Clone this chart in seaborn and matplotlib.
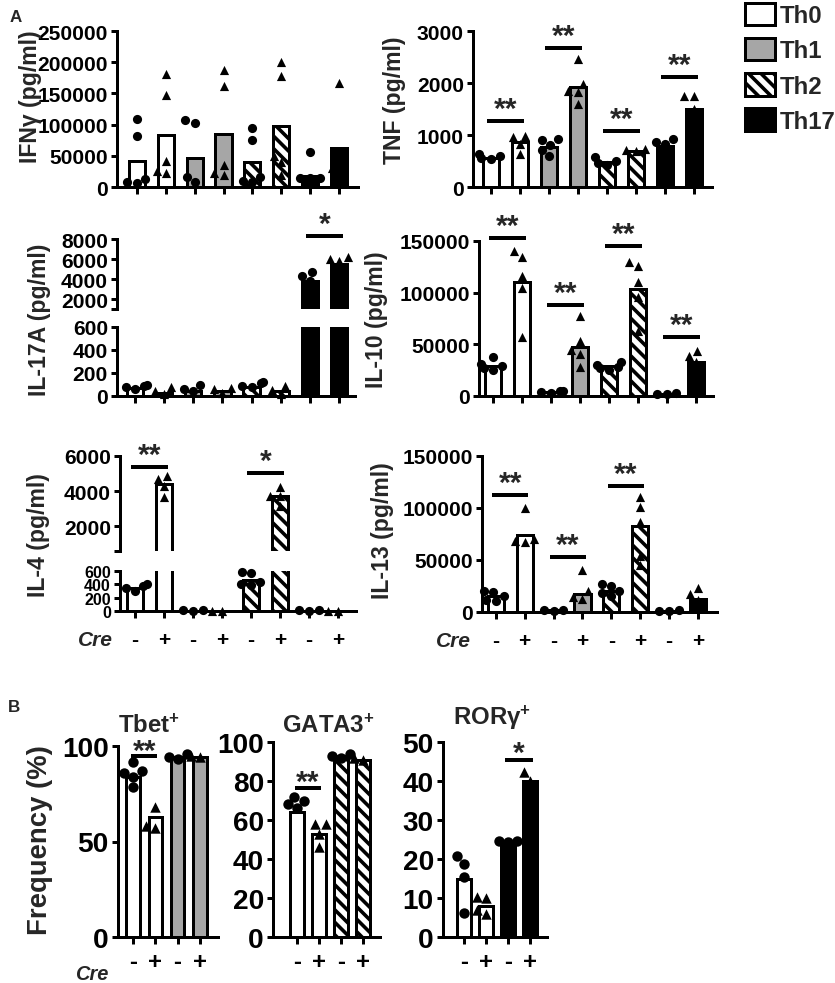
import numpy as np
import pandas as pd
import matplotlib
matplotlib.use("Agg")
import matplotlib.pyplot as plt
from matplotlib.patches import Patch
import seaborn as sns

# ---------------- data ----------------
GROUPS = ["Th0", "Th0", "Th1", "Th1", "Th2", "Th2", "Th17", "Th17"]
CRE = ["-", "+", "-", "+", "-", "+", "-", "+"]
CATS = [f"{g} {c}" for g, c in zip(GROUPS, CRE)]

IFNG_BARS = [42000, 83000, 46000, 85000, 40000, 97000, 17000, 62000]
IFNG_PTS = [[109000, 82000, 13000, 8000, 6000],
            [181000, 148000, 42000, 26000, 22000],
            [107000, 103000, 16000, 8000],
            [188000, 162000, 35000, 23000, 20000],
            [95000, 76000, 16000, 10000, 8000],
            [200000, 178000, 50000, 40000, 20000],
            [56000, 15000, 15000, 15000],
            [166000, 30000, 20000]]

TNF_BARS = [560, 865, 770, 1920, 480, 700, 790, 1500]
TNF_PTS = [[640, 590, 560, 540],
           [980, 960, 830, 640],
           [920, 900, 810, 720, 600],
           [2460, 1980, 1850, 1830, 1600],
           [580, 500, 470, 420],
           [740, 720, 700],
           [830, 870, 930],
           [1750, 1750, 1500]]
TNF_SIG = [(0, 1, 1270, "**"), (2, 3, 2670, "**"), (4, 5, 1070, "**"), (6, 7, 2110, "**")]

IL17A_BARS = [70, 30, 40, 40, 80, 40, 3800, 5500]
IL17A_PTS = [[100, 90, 80, 60], [80, 40, 20], [100, 60, 40], [70, 60, 30],
             [120, 110, 90, 80], [90, 50, 20], [4700, 4300, 3800], [6200, 6000, 5800]]
IL17A_SIG = [(6, 7, 8300, "*")]

IL10_BARS = [29000, 110000, 4000, 47000, 29000, 104000, 2000, 33000]
IL10_PTS = [[38000, 31000, 29000, 27000, 25000],
            [140000, 135000, 116000, 105000, 57000],
            [5000, 4000, 3000, 5000],
            [77000, 53000, 45000, 41000, 28000],
            [33000, 30000, 28000, 27000, 25000],
            [130000, 126000, 110000, 96000, 63000],
            [3000, 2000, 1500],
            [43500, 38700, 33000]]
IL10_SIG = [(0, 1, 153000, "**"), (2, 3, 88000, "**"), (4, 5, 145000, "**"), (6, 7, 57000, "**")]

IL4_BARS = [345, 4400, 5, 5, 465, 3700, 3, 3]
IL4_PTS = [[400, 380, 350, 300], [4850, 4700, 4290, 3660], [10, 8, 5], [5, 3],
           [590, 570, 435, 400, 387], [4230, 3710, 3700, 3140], [10, 8, 5], [5, 3]]
IL4_SIG = [(0, 1, 5370, "**"), (4, 5, 5030, "*")]

IL13_BARS = [15400, 74000, 1500, 17300, 20200, 83000, 1000, 12500]
IL13_PTS = [[20000, 19000, 15400, 12000, 10500],
            [100000, 70000, 68000, 67000],
            [2000, 1500, 1000],
            [40000, 20000, 14400, 12500],
            [27000, 25000, 20000, 18000, 15000],
            [110500, 101000, 86500, 54000, 45000],
            [1500, 1000, 800],
            [23000, 17300, 12000]]
IL13_SIG = [(0, 1, 112500, "**"), (2, 3, 52900, "**"), (4, 5, 121000, "**")]

B_CRE = ["-", "+", "-", "+"]
TBET_GROUPS = ["Th0", "Th0", "Th1", "Th1"]
TBET_BARS = [84, 63, 94, 94]
TBET_PTS = [[91.6, 87, 86, 84, 78.5], [68, 58, 57], [96, 94, 93], [95, 94]]
TBET_SIG = [(0, 1, 95, "**")]

GATA3_GROUPS = ["Th0", "Th0", "Th2", "Th2"]
GATA3_BARS = [64, 53, 93, 91]
GATA3_PTS = [[72, 70, 68, 66], [58, 58, 53, 46], [94, 93, 92], [92, 91]]
GATA3_SIG = [(0, 1, 76.4, "**")]

RORG_GROUPS = ["Th0", "Th0", "Th17", "Th17"]
RORG_BARS = [15, 8, 24.4, 40]
RORG_PTS = [[20.8, 18.7, 15.4, 6.2], [10.3, 10, 7, 6], [24.7, 24.5, 24.3], [42.3, 40, 36.7]]
RORG_SIG = [(2, 3, 45.4, "*")]

LEGEND_LABELS = ["Th0", "Th1", "Th2", "Th17"]

# ---------------- style ----------------
W, H, DPI = 835, 984, 150
PT = 72.0 / DPI  # points per pixel

sns.set_theme(style="ticks")
plt.rcParams["font.family"] = ["Liberation Sans", "DejaVu Sans"]
plt.rcParams["font.weight"] = "bold"
plt.rcParams["mathtext.default"] = "regular"
plt.rcParams["hatch.linewidth"] = 3.6 * PT
plt.rcParams["hatch.color"] = "black"

FACE = {"Th0": "white", "Th1": "#a6a6a6", "Th2": "white", "Th17": "black"}
HATCH = {"Th0": None, "Th1": None, "Th2": "\\" * 4, "Th17": None}
LW = 3 * PT
TICK_A, TICK_B = 21 * PT, 28 * PT
YLAB_A, YLAB_B = 23 * PT, 27.5 * PT
STAR_FS = 30 * PT
CRE_FS_A, CRE_FS_B = 21 * PT, 24 * PT

fig = plt.figure(figsize=(W / DPI, H / DPI), dpi=DPI)


def new_ax(left, top, right, bottom):
    return fig.add_axes([left / W, 1 - bottom / H, (right - left) / W, (bottom - top) / H])


def draw_bars(ax, cats, groups, bars, width):
    sns.barplot(x=cats, y=bars, order=cats, width=width, errorbar=None, ax=ax,
                color="white", edgecolor="black", linewidth=LW)
    for patch, g in zip(ax.patches, groups):
        patch.set_facecolor(FACE[g])
        if HATCH[g]:
            patch.set_hatch(HATCH[g])


def draw_points(ax, cats, cre, pts, msize, lo=-np.inf, hi=np.inf):
    df = pd.DataFrame([(c, s, v) for c, s, vals in zip(cats, cre, pts) for v in vals],
                      columns=["cat", "cre", "value"])
    df = df[(df.value >= lo) & (df.value <= hi)]
    for sign, mk in (("-", "o"), ("+", "^")):
        sub = df[df.cre == sign]
        if len(sub):
            sns.swarmplot(data=sub, x="cat", y="value", order=cats, marker=mk, color="black",
                          size=msize, linewidth=0, ax=ax, clip_on=False)


def style(ax, xlim, ylim, yticks, tick_fs, extra_ticks=(), xlabels=None, xlab_fs=None,
          xpad=4, bottom=True):
    ax.set_xlim(*xlim)
    ax.set_ylim(*ylim)
    ax.set_yticks(list(yticks) + list(extra_ticks))
    ax.set_yticklabels([str(t) for t in yticks] + [""] * len(extra_ticks))
    ax.set_xlabel("")
    ax.set_ylabel("")
    ax.set_facecolor("none")
    for s in ("top", "right"):
        ax.spines[s].set_visible(False)
    for s in ("left", "bottom"):
        ax.spines[s].set_linewidth(LW)
        ax.spines[s].set_color("black")
        ax.spines[s].set_capstyle("projecting")
    ax.tick_params(axis="y", length=6 * PT, width=LW, labelsize=tick_fs, pad=1.5, colors="black")
    if bottom:
        ax.tick_params(axis="x", length=7 * PT, width=LW, pad=xpad, colors="black")
        if xlabels is None:
            ax.set_xticklabels([""] * len(ax.get_xticks()))
        else:
            ax.set_xticklabels(xlabels, fontsize=xlab_fs, fontweight="bold")
    else:
        ax.spines["bottom"].set_visible(False)
        ax.tick_params(axis="x", length=0, labelbottom=False)


def add_sig(ax, sigs, half, gap_px):
    for i, j, y, lab in sigs:
        xc = (i + j) / 2
        ax.plot([xc - half, xc + half], [y, y], color="black", lw=4 * PT,
                clip_on=False, solid_capstyle="butt")
        ax.annotate(lab, xy=(xc, y), xytext=(0, gap_px * PT), textcoords="offset points",
                    ha="center", va="baseline", fontsize=STAR_FS, fontweight="bold",
                    annotation_clip=False)


def ylabel(x, y, text, fs):
    fig.text(x / W, 1 - y / H, text, rotation=90, ha="center", va="center", fontsize=fs,
             fontweight="bold")


def simple_panel(box, xlim, ylim, yticks, cats, groups, cre, bars, pts, width, msize,
                 tick_fs, sigs=(), half=0.63, gap=4, xlabels=None, xlab_fs=None, xpad=4):
    ax = new_ax(*box)
    ax.set_xlim(*xlim)
    ax.set_ylim(*ylim)
    draw_bars(ax, cats, groups, bars, width)
    draw_points(ax, cats, cre, pts, msize)
    style(ax, xlim, ylim, yticks, tick_fs, xlabels=xlabels, xlab_fs=xlab_fs, xpad=xpad)
    add_sig(ax, sigs, half, gap)
    return ax


def broken_panel(upper_box, lower_box, xlim, up_lim, lo_lim, up_ticks, lo_ticks, bars, pts,
                 sigs, lo_tick_fs=TICK_A, xlabels=None, xlab_fs=None, xpad=4):
    axu = new_ax(*upper_box)
    axl = new_ax(*lower_box)
    for ax, lim in ((axu, up_lim), (axl, lo_lim)):
        ax.set_xlim(*xlim)
        ax.set_ylim(*lim)
        draw_bars(ax, CATS, GROUPS, bars, 0.56)
        draw_points(ax, CATS, CRE, pts, 4.4, lo=lim[0], hi=lim[1])
    style(axu, xlim, up_lim, up_ticks, TICK_A, extra_ticks=(up_lim[0],), bottom=False)
    style(axl, xlim, lo_lim, lo_ticks, lo_tick_fs, xlabels=xlabels, xlab_fs=xlab_fs, xpad=xpad)
    add_sig(axu, sigs, 0.63, 4)
    return axu, axl


# ---------------- panel A ----------------
simple_panel((117, 32, 358, 188), (-0.69, 7.66), (0, 250000),
             [0, 50000, 100000, 150000, 200000, 250000],
             CATS, GROUPS, CRE, IFNG_BARS, IFNG_PTS, 0.56, 4.4, TICK_A)
ylabel(30, 97, "IFNγ (pg/ml)", YLAB_A)

simple_panel((473, 32, 712, 188), (-0.62, 7.62), (0, 3000), [0, 1000, 2000, 3000],
             CATS, GROUPS, CRE, TNF_BARS, TNF_PTS, 0.56, 4.4, TICK_A, sigs=TNF_SIG)
ylabel(395, 100, "TNF (pg/ml)", YLAB_A)

broken_panel((117, 240, 355, 310), (117, 328, 355, 397), (-0.62, 7.55),
             (1000, 8000), (0, 600), [2000, 4000, 6000, 8000], [0, 200, 400, 600],
             IL17A_BARS, IL17A_PTS, IL17A_SIG)
ylabel(40, 320, "IL-17A (pg/ml)", YLAB_A)

simple_panel((479, 242, 713, 397), (-0.48, 7.59), (0, 150000), [0, 50000, 100000, 150000],
             CATS, GROUPS, CRE, IL10_BARS, IL10_PTS, 0.56, 4.4, TICK_A, sigs=IL10_SIG)
ylabel(377, 320, "IL-10 (pg/ml)", YLAB_A)

broken_panel((120, 457, 356, 552), (120, 572, 356, 612), (-0.52, 7.62),
             (600, 6000), (0, 600), [2000, 4000, 6000], [0, 200, 400, 600],
             IL4_BARS, IL4_PTS, IL4_SIG, lo_tick_fs=16 * PT, xlabels=CRE,
             xlab_fs=CRE_FS_A, xpad=6)
ylabel(38, 535, "IL-4 (pg/ml)", YLAB_A)
fig.text(113 / W, 1 - 646 / H, "Cre", ha="right", va="baseline", fontsize=CRE_FS_A,
         fontweight="bold", style="italic")

simple_panel((482, 457, 717, 613), (-0.48, 7.66), (0, 150000), [0, 50000, 100000, 150000],
             CATS, GROUPS, CRE, IL13_BARS, IL13_PTS, 0.56, 4.4, TICK_A, sigs=IL13_SIG,
             xlabels=CRE, xlab_fs=CRE_FS_A, xpad=6)
ylabel(382, 531, "IL-13 (pg/ml)", YLAB_A)
fig.text(471 / W, 1 - 647 / H, "Cre", ha="right", va="baseline", fontsize=CRE_FS_A,
         fontweight="bold", style="italic")

# legend
handles = [Patch(facecolor=FACE[g], edgecolor="black", hatch=HATCH[g], linewidth=LW)
           for g in LEGEND_LABELS]
fig.legend(handles, LEGEND_LABELS, loc="upper left", bbox_to_anchor=(745 / W, 1 - 4 / H),
           frameon=False, fontsize=24 * PT, handlelength=1.25, handleheight=1.05,
           labelspacing=0.45, handletextpad=0.2, borderpad=0, borderaxespad=0)

fig.text(10 / W, 1 - 22 / H, "A", ha="left", va="baseline", fontsize=17 * PT, fontweight="bold")

# ---------------- panel B ----------------
B_CATS_T = [f"{g} {c}" for g, c in zip(TBET_GROUPS, B_CRE)]
B_CATS_G = [f"{g} {c}" for g, c in zip(GATA3_GROUPS, B_CRE)]
B_CATS_R = [f"{g} {c}" for g, c in zip(RORG_GROUPS, B_CRE)]

simple_panel((118, 747, 218, 938), (-0.67, 3.81), (0, 100), [0, 50, 100],
             B_CATS_T, TBET_GROUPS, B_CRE, TBET_BARS, TBET_PTS, 0.6, 5.0, TICK_B,
             sigs=TBET_SIG, half=0.58, gap=-3, xlabels=B_CRE, xlab_fs=CRE_FS_B, xpad=3)
simple_panel((273, 743, 380, 938), (-1.09, 3.77), (0, 100), [0, 20, 40, 60, 80, 100],
             B_CATS_G, GATA3_GROUPS, B_CRE, GATA3_BARS, GATA3_PTS, 0.6, 5.0, TICK_B,
             sigs=GATA3_SIG, half=0.6, gap=-2, xlabels=B_CRE, xlab_fs=CRE_FS_B, xpad=3)
simple_panel((443, 743, 547, 938), (-0.95, 3.77), (0, 50), [0, 10, 20, 30, 40, 50],
             B_CATS_R, RORG_GROUPS, B_CRE, RORG_BARS, RORG_PTS, 0.6, 5.0, TICK_B,
             sigs=RORG_SIG, half=0.64, gap=-1, xlabels=B_CRE, xlab_fs=CRE_FS_B, xpad=3)

TITLE_FS = 24 * PT
fig.text(118 / W, 1 - 733 / H, "Tbet$^{+}$", ha="left", va="baseline", fontsize=TITLE_FS,
         fontweight="bold")
fig.text(282 / W, 1 - 733 / H, "GATA3$^{+}$", ha="left", va="baseline", fontsize=TITLE_FS,
         fontweight="bold")
fig.text(453 / W, 1 - 725 / H, "RORγ$^{+}$", ha="left", va="baseline", fontsize=TITLE_FS,
         fontweight="bold")
ylabel(40, 840, "Frequency (%)", YLAB_B)
fig.text(108 / W, 1 - 980 / H, "Cre", ha="right", va="baseline", fontsize=20 * PT,
         fontweight="bold", style="italic")
fig.text(8 / W, 1 - 712 / H, "B", ha="left", va="baseline", fontsize=17 * PT, fontweight="bold")

fig.savefig("out.png", dpi=DPI)
